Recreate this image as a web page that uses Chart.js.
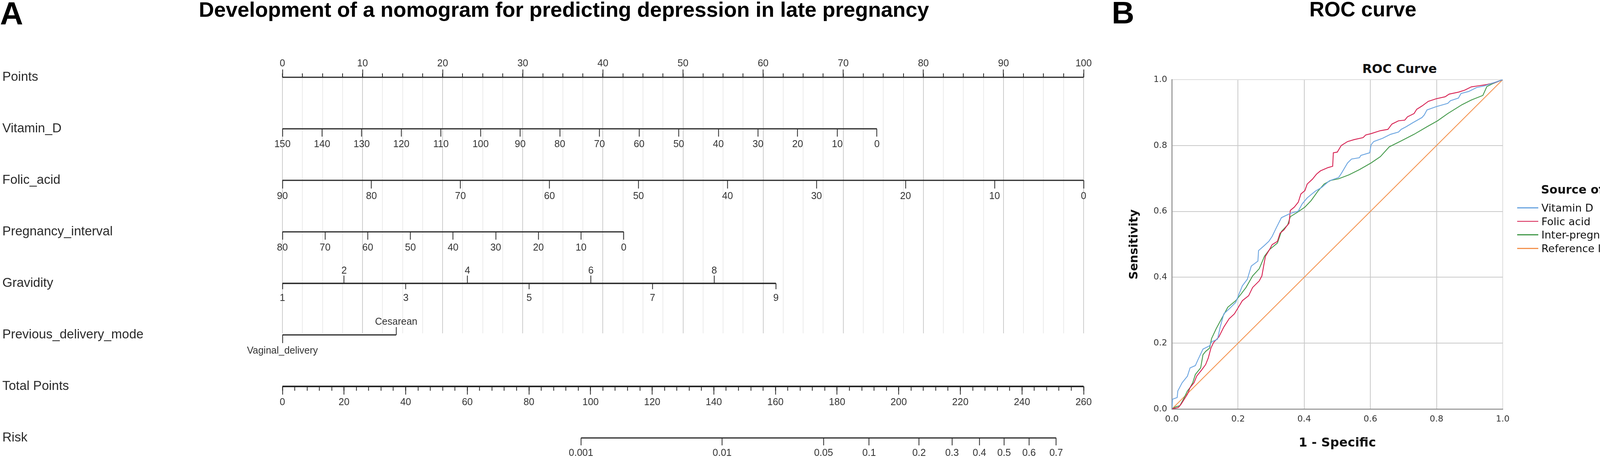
<!DOCTYPE html>
<html lang="en">
<head>
<meta charset="utf-8">
<title>Nomogram and ROC curve</title>
<script src="https://cdn.jsdelivr.net/npm/chart.js@4.4.1/dist/chart.umd.min.js"></script>
<style>
  html, body { margin: 0; padding: 0; background: #fff; }
  body { position: relative; width: 4317px; height: 1199px; overflow: hidden; }
  .txt { position: absolute; white-space: nowrap; color: #000; }
  .panel { font-family: 'Liberation Sans', Arial, sans-serif; font-weight: bold; }
  #nomo { position: absolute; left: 0; top: 0; width: 2880px; height: 1199px; }
  #roc { position: absolute; left: 2800px; top: 0; width: 1517px; height: 1199px; }
  #rocLegend { position: absolute; left: 3884px; top: 466px; font-family: 'DejaVu Sans', sans-serif; color: #111; }
  #rocLegend .head { font-weight: bold; font-size: 30px; line-height: 40px; padding-left: 61px; margin-bottom: 10px; }
  #rocLegend .item { position: relative; height: 34.7px; line-height: 34.7px; font-size: 27px; padding-left: 62px; }
  #rocLegend .swatch { position: absolute; left: 0; top: 15px; width: 54px; height: 2.5px; }
</style>
</head>
<body>
<div class="txt panel" style="left:0;top:-7px;font-size:82px;line-height:82px;">A</div>
<div class="txt panel" style="left:509px;top:-3px;font-size:54px;line-height:54px;">Development of a nomogram for predicting depression in late pregnancy</div>
<div class="txt panel" style="left:2846px;top:-7px;font-size:80px;line-height:80px;">B</div>
<div class="txt panel" style="left:3352px;top:-3px;font-size:53px;line-height:53px;">ROC curve</div>
<div class="txt" style="left:3483px;top:156px;width:200px;text-align:center;font:bold 32px/40px 'DejaVu Sans',sans-serif;color:#111;">ROC Curve</div>
<canvas id="nomo" width="2880" height="1199"></canvas>
<canvas id="roc" width="1517" height="1199"></canvas>
<div id="rocLegend"></div>
<script>
// ---------- panel A: nomogram ----------
const rowNames = ['Points', 'Vitamin_D', 'Folic_acid', 'Pregnancy_interval', 'Gravidity',
  'Previous_delivery_mode', 'Total Points', 'Risk'];

const pointsTicks = [0, 10, 20, 30, 40, 50, 60, 70, 80, 90, 100];
const pointsMinorStep = 2.5;

// each variable: tick values and the points reached at its first / last tick
const vitaminDTicks = [150, 140, 130, 120, 110, 100, 90, 80, 70, 60, 50, 40, 30, 20, 10, 0];
const vitaminDPoints = [0, 74.2];
const folicAcidTicks = [90, 80, 70, 60, 50, 40, 30, 20, 10, 0];
const folicAcidPoints = [0, 100];
const intervalTicks = [80, 70, 60, 50, 40, 30, 20, 10, 0];
const intervalPoints = [0, 42.6];
const gravidityUpper = [2, 4, 6, 8];
const gravidityLower = [1, 3, 5, 7, 9];
const gravidityPoints = [0, 61.6];
const deliveryLevels = ['Vaginal_delivery', 'Cesarean'];
const deliveryPoints = [0, 14.2];

const totalPointsTicks = [0, 20, 40, 60, 80, 100, 120, 140, 160, 180, 200, 220, 240, 260];
const totalMinorStep = 4;
const riskLabels = [0.001, 0.01, 0.05, 0.1, 0.2, 0.3, 0.4, 0.5, 0.6, 0.7];
const riskAtTotalPoints = [96.9, 142.7, 175.6, 190.4, 206.6, 217.3, 226.2, 234.2, 242.3, 251.1];

const tickFont = { family: 'Liberation Sans', size: 25 };
const ink = '#262626';

const range = (a, b, step) => Array.from({ length: Math.round((b - a) / step) + 1 }, (_, i) => a + i * step);

// one horizontal axis per row, placed on the row scale; value range chosen so the
// axis lines up with the 0..100 points scale
function rowAxis(row, first, last, ptsFirst, ptsLast, ticks, look) {
  const perPoint = (last - first) / (ptsLast - ptsFirst);
  const atZero = first - ptsFirst * perPoint;
  const atHundred = first + (100 - ptsFirst) * perPoint;
  return {
    type: 'linear', axis: 'x', position: { y: row }, bounds: 'data',
    min: Math.min(atZero, atHundred), max: Math.max(atZero, atHundred),
    reverse: atZero > atHundred,
    afterBuildTicks: s => { s.ticks = ticks.map(v => ({ value: v })); },
    border: { display: false },
    grid: Object.assign({ display: true, drawOnChartArea: false, drawTicks: true,
      tickLength: look.len, tickColor: ink, tickWidth: 2 }, look.grid || {}),
    ticks: { display: !!look.label, autoSkip: false, maxRotation: 0, minRotation: 0,
      padding: look.pad || 0, color: '#333', font: tickFont,
      callback: look.label || (v => v) }
  };
}

const nomoScales = {
  y: {
    type: 'linear', position: 'left', min: 0, max: 4.97, reverse: true, bounds: 'data',
    afterBuildTicks: s => { s.ticks = rowNames.map((_, i) => ({ value: i })); },
    afterFit: s => { s.width = 717; },
    grid: { display: false }, border: { display: false },
    ticks: { autoSkip: false, crossAlign: 'far', padding: 0, color: '#2a2a2a',
      font: { family: 'Liberation Sans', size: 33 }, callback: v => rowNames[v] }
  },
  ptsMinor: rowAxis(0, 0, 100, 0, 100, range(0, 100, pointsMinorStep), {
    len: -10,
    grid: { drawOnChartArea: true, lineWidth: 2,
      color: c => (c.tick && c.tick.value % 10 === 0) ? '#cdcdcd' : '#ebebeb' }
  }),
  pts: rowAxis(0, 0, 100, 0, 100, pointsTicks, { len: -20, pad: -30, label: String }),
  vitD: rowAxis(1, vitaminDTicks[0], vitaminDTicks.at(-1), vitaminDPoints[0], vitaminDPoints[1],
    vitaminDTicks, { len: 20, pad: 5, label: String }),
  folic: rowAxis(2, folicAcidTicks[0], folicAcidTicks.at(-1), folicAcidPoints[0], folicAcidPoints[1],
    folicAcidTicks, { len: 21, pad: 5, label: String }),
  interval: rowAxis(3, intervalTicks[0], intervalTicks.at(-1), intervalPoints[0], intervalPoints[1],
    intervalTicks, { len: 20, pad: 6, label: String }),
  gravUp: rowAxis(4, 1, 9, gravidityPoints[0], gravidityPoints[1], gravidityUpper,
    { len: -20, pad: -27, label: String }),
  gravDown: rowAxis(4, 1, 9, gravidityPoints[0], gravidityPoints[1], gravidityLower,
    { len: 15, pad: 8, label: String }),
  delivUp: rowAxis(5, 0, 1, deliveryPoints[0], deliveryPoints[1], [1],
    { len: -20, pad: -28, label: v => deliveryLevels[v] }),
  delivDown: rowAxis(5, 0, 1, deliveryPoints[0], deliveryPoints[1], [0],
    { len: 21, pad: 5, label: v => deliveryLevels[v] }),
  totalMinor: rowAxis(6, 0, 260, 0, 100, range(0, 260, totalMinorStep), { len: 11 }),
  total: rowAxis(6, 0, 260, 0, 100, totalPointsTicks, { len: 21, pad: 5, label: String }),
  risk: rowAxis(7, 0, 260, 0, 100, riskAtTotalPoints,
    { len: 19, pad: 5, label: v => String(riskLabels[riskAtTotalPoints.indexOf(v)]) })
};

// axis line of every row: [axis id, row, from, to, width]
const axisLines = [
  ['pts', 0, pointsTicks[0], pointsTicks.at(-1), 3],
  ['vitD', 1, vitaminDTicks[0], vitaminDTicks.at(-1), 3],
  ['folic', 2, folicAcidTicks[0], folicAcidTicks.at(-1), 3],
  ['interval', 3, intervalTicks[0], intervalTicks.at(-1), 3],
  ['gravDown', 4, gravidityLower[0], gravidityLower.at(-1), 3.5],
  ['delivDown', 5, 0, deliveryLevels.length - 1, 3],
  ['total', 6, totalPointsTicks[0], totalPointsTicks.at(-1), 4],
  ['risk', 7, riskAtTotalPoints[0], riskAtTotalPoints.at(-1), 3]
];

new Chart(document.getElementById('nomo'), {
  type: 'scatter',
  data: {
    datasets: axisLines.map(([id, row, a, b, w]) => ({
      label: rowNames[row], xAxisID: id, yAxisID: 'y',
      data: [{ x: a, y: row }, { x: b, y: row }],
      showLine: true, borderColor: ink, borderWidth: w, pointRadius: 0, clip: false
    }))
  },
  options: {
    responsive: false, animation: false, devicePixelRatio: 1, events: [],
    layout: { padding: { left: 6, top: 198, right: 106, bottom: 345 } },
    plugins: { legend: { display: false }, tooltip: { enabled: false } },
    scales: nomoScales
  }
});

// ---------- panel B: ROC curve ----------
const rocLabels = ['Vitamin D', 'Folic acid', 'Inter-pregnancy interval', 'Reference line'];
const rocColors = ['#6aa4e0', '#d61f50', '#43994a', '#f4934f'];

// [1 - specificity, sensitivity]
const vitaminDRoc = [[0,0],[0.002,0.030],[0.016,0.035],[0.018,0.055],[0.031,0.080],[0.047,0.100],
  [0.055,0.125],[0.071,0.132],[0.079,0.150],[0.094,0.182],[0.114,0.192],[0.120,0.204],[0.138,0.212],
  [0.146,0.249],[0.157,0.289],[0.173,0.304],[0.193,0.324],[0.203,0.349],[0.213,0.374],[0.228,0.394],
  [0.240,0.434],[0.260,0.449],[0.262,0.481],[0.279,0.496],[0.293,0.509],[0.303,0.524],[0.315,0.549],
  [0.331,0.581],[0.358,0.594],[0.382,0.601],[0.394,0.623],[0.409,0.641],[0.433,0.661],[0.453,0.673],
  [0.476,0.693],[0.504,0.703],[0.512,0.715],[0.531,0.747],[0.543,0.759],[0.567,0.763],[0.571,0.770],
  [0.598,0.778],[0.602,0.802],[0.610,0.812],[0.637,0.822],[0.661,0.834],[0.685,0.841],[0.693,0.849],
  [0.708,0.857],[0.728,0.869],[0.756,0.885],[0.763,0.893],[0.771,0.908],[0.799,0.918],[0.834,0.928],
  [0.842,0.936],[0.866,0.944],[0.874,0.958],[0.897,0.964],[0.921,0.976],[0.945,0.981],[0.968,0.989],[1,1]];
const folicAcidRoc = [[0,0],[0.020,0.005],[0.028,0.015],[0.047,0.045],[0.055,0.065],[0.067,0.080],
  [0.075,0.100],[0.091,0.120],[0.102,0.135],[0.110,0.155],[0.118,0.185],[0.126,0.202],[0.142,0.219],
  [0.157,0.249],[0.173,0.274],[0.189,0.289],[0.201,0.309],[0.213,0.329],[0.232,0.344],[0.244,0.369],
  [0.264,0.389],[0.272,0.404],[0.280,0.449],[0.283,0.464],[0.295,0.484],[0.303,0.499],[0.319,0.509],
  [0.327,0.534],[0.339,0.544],[0.346,0.554],[0.354,0.564],[0.358,0.603],[0.370,0.613],[0.382,0.628],
  [0.390,0.653],[0.402,0.663],[0.409,0.683],[0.425,0.698],[0.437,0.713],[0.449,0.723],[0.472,0.733],
  [0.486,0.737],[0.488,0.778],[0.500,0.780],[0.512,0.800],[0.531,0.812],[0.551,0.818],[0.578,0.824],
  [0.586,0.832],[0.602,0.836],[0.630,0.845],[0.653,0.849],[0.665,0.865],[0.685,0.875],[0.704,0.877],
  [0.712,0.887],[0.732,0.897],[0.740,0.910],[0.756,0.920],[0.775,0.934],[0.799,0.942],[0.826,0.948],
  [0.838,0.956],[0.866,0.962],[0.885,0.968],[0.905,0.978],[0.925,0.981],[0.952,0.985],[0.976,0.991],[1,1]];
const intervalRoc = [[0,0],[0.012,0.007],[0.024,0.010],[0.035,0.030],[0.047,0.055],[0.055,0.065],
  [0.063,0.080],[0.071,0.105],[0.087,0.125],[0.094,0.165],[0.102,0.175],[0.114,0.185],[0.120,0.214],
  [0.134,0.244],[0.150,0.274],[0.169,0.309],[0.193,0.329],[0.209,0.349],[0.224,0.369],[0.244,0.404],
  [0.264,0.426],[0.280,0.464],[0.295,0.484],[0.319,0.504],[0.331,0.539],[0.350,0.559],[0.358,0.584],
  [0.382,0.599],[0.402,0.613],[0.421,0.633],[0.441,0.661],[0.460,0.683],[0.480,0.694],[0.504,0.699],
  [0.535,0.711],[0.567,0.727],[0.602,0.747],[0.630,0.766],[0.657,0.796],[0.693,0.814],[0.732,0.834],
  [0.771,0.857],[0.803,0.875],[0.834,0.897],[0.877,0.924],[0.905,0.938],[0.940,0.952],[0.952,0.979],
  [0.968,0.987],[1,1]];
const referenceRoc = [[0,0],[1,1]];

const rocSeries = [vitaminDRoc, folicAcidRoc, intervalRoc, referenceRoc];
const rocTickFont = { family: 'DejaVu Sans', size: 22 };

new Chart(document.getElementById('roc'), {
  type: 'scatter',
  data: {
    datasets: rocSeries.map((pts, i) => ({
      label: rocLabels[i],
      data: pts.map(([x, y]) => ({ x, y })),
      showLine: true, borderColor: rocColors[i], borderWidth: 2.2,
      pointRadius: 0, tension: 0
    }))
  },
  options: {
    responsive: false, animation: false, devicePixelRatio: 1, events: [],
    layout: { padding: { left: 80, top: 204, right: 470, bottom: 30 } },
    plugins: { legend: { display: false }, tooltip: { enabled: false } },
    scales: {
      x: {
        type: 'linear', min: 0, max: 1, bounds: 'data',
        ticks: { stepSize: 0.2, padding: 13, color: '#333', font: rocTickFont, callback: v => v.toFixed(1) },
        grid: { drawTicks: false, lineWidth: 2, color: c => (c.tick && c.tick.value === 1) ? '#dcdcdc' : '#c9c9c9' },
        border: { color: '#8d8d8d', width: 2.5 },
        title: { display: true, text: '1 - Specific', color: '#111',
          font: { family: 'DejaVu Sans', size: 32, weight: 'bold' }, padding: { top: 0, bottom: 14 } },
        afterFit: s => { s.height = 121; }
      },
      y: {
        type: 'linear', min: 0, max: 1, bounds: 'data',
        ticks: { stepSize: 0.2, padding: 12, color: '#333', font: rocTickFont, callback: v => v.toFixed(1) },
        grid: { drawTicks: false, lineWidth: 2, color: c => (c.tick && c.tick.value === 1) ? '#dcdcdc' : '#c9c9c9' },
        border: { color: '#8d8d8d', width: 2.5 },
        title: { display: true, text: 'Sensitivity', color: '#111',
          font: { family: 'DejaVu Sans', size: 30, weight: 'bold' }, padding: { top: 6, bottom: 0 } },
        afterFit: s => { s.width = 120; }
      }
    }
  }
});

// legend of panel B, built from the series names and colours
document.getElementById('rocLegend').innerHTML =
  '<div class="head">Source of curve</div>' +
  rocLabels.map((name, i) =>
    '<div class="item"><span class="swatch" style="background:' + rocColors[i] + '"></span>' + name + '</div>'
  ).join('');
</script>
</body>
</html>
